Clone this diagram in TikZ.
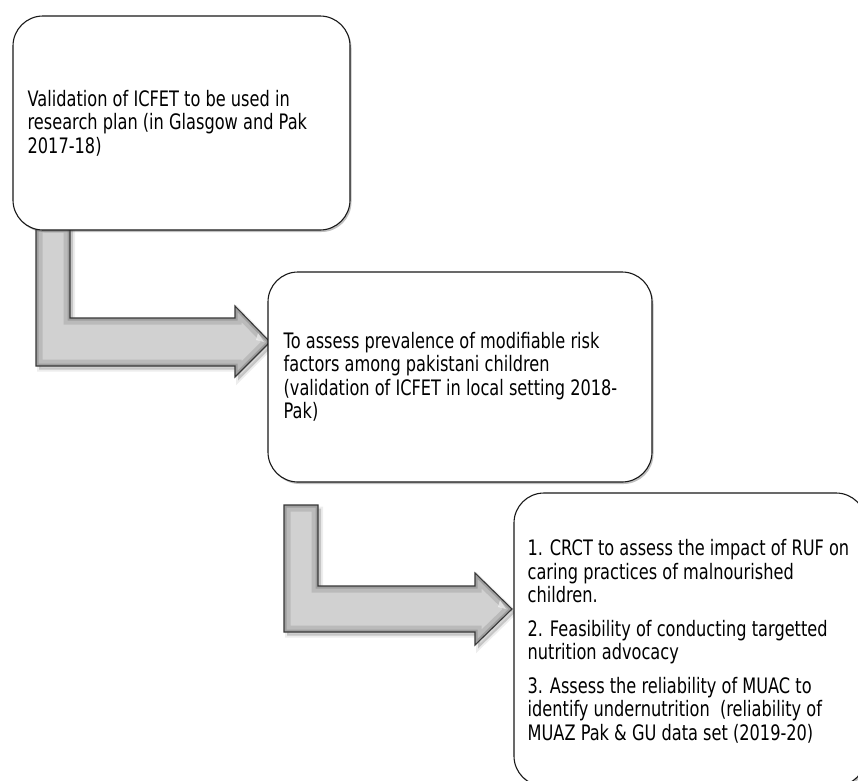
\documentclass[tikz,border=0pt]{standalone}
\usepackage{fontspec}
\setmainfont{DejaVu Sans}[FakeStretch=0.76]
\usetikzlibrary{shadows}

\tikzset{
  boxshape/.style={draw=black!90, line width=1.1pt, fill=white,
    rounded corners=30pt, inner sep=0pt,
    drop shadow={shadow xshift=1.5pt, shadow yshift=-2pt, opacity=0.35, fill=black!70}},
  boxtext/.style={anchor=west, align=left, inner sep=0pt,
    font=\fontsize{21.3}{23.5}\selectfont, text=black},
  arrowrim/.style={draw=black!78, line width=1.1pt, line join=miter},
  arrowshade/.style={fill=black, opacity=0.16},
}

% Bent block arrow.
% #1,#2 stem left/right x; #3 stem top y; #4,#5 shaft top/bottom y;
% #6 head base x; #7,#8 head top/bottom y; #9 tip x
\newcommand\flowarrow[9]{%
  \fill[arrowshade, shift={(3,3.5)}]
    (#1,#3) -- (#2,#3) -- (#2,#4) -- (#6,#4) -- (#6,#7) -- (#9,{(#4+#5)/2})
    -- (#6,#8) -- (#6,#5) -- (#1,#5) -- cycle;
  \draw[black, opacity=0.07, line width=4pt, shift={(3,3.5)}]
    (#1,#3) -- (#2,#3) -- (#2,#4) -- (#6,#4) -- (#6,#7) -- (#9,{(#4+#5)/2})
    -- (#6,#8) -- (#6,#5) -- (#1,#5) -- cycle;
  \begin{scope}
    \clip (#1,#3) -- (#2,#3) -- (#2,#4) -- (#6,#4) -- (#6,#7) -- (#9,{(#4+#5)/2})
      -- (#6,#8) -- (#6,#5) -- (#1,#5) -- cycle;
    \fill[black!18] (#1,{#3-5}) rectangle (#9,{#8+5});
    \draw[black!27, line width=13pt, line join=miter]
      (#1,#3) -- (#2,#3) -- (#2,#4) -- (#6,#4) -- (#6,#7) -- (#9,{(#4+#5)/2})
      -- (#6,#8) -- (#6,#5) -- (#1,#5) -- cycle;
    \draw[black!38, line width=5pt, line join=miter]
      (#1,#3) -- (#2,#3) -- (#2,#4) -- (#6,#4) -- (#6,#7) -- (#9,{(#4+#5)/2})
      -- (#6,#8) -- (#6,#5) -- (#1,#5) -- cycle;
    \fill[white, opacity=0.55] ({#9-14},{(#4+#5)/2-2}) -- ({#9-6},{(#4+#5)/2})
      -- ({#9-12},{(#4+#5)/2-9}) -- cycle;
  \end{scope}
  \draw[arrowrim]
    (#1,#3) -- (#2,#3) -- (#2,#4) -- (#6,#4) -- (#6,#7) -- (#9,{(#4+#5)/2})
    -- (#6,#8) -- (#6,#5) -- (#1,#5) -- cycle;
}

\begin{document}
\begin{tikzpicture}[x=1pt, y=-1pt]
  \useasboundingbox (0,0) rectangle (858,780);
  \clip (0,0) rectangle (858,780);
  \fill[white] (0,0) rectangle (858,780);

  % connectors between the stages
  \flowarrow{36}{70}{226}{318}{366}{235}{306}{377}{270}
  \flowarrow{284}{318}{505}{586}{632}{475}{573}{645}{512}

  % stage 1
  \node[boxshape, minimum width=337pt, minimum height=214pt] (b1) at (181.5,123) {};
  \node[boxtext] (t1) at ([xshift=15pt]b1.west)
    {Validation of ICFET to be used in\\
     research plan (in Glasgow and Pak\\
     2017-18)};

  % stage 2
  \node[boxshape, minimum width=384pt, minimum height=210pt] (b2) at (460,377) {};
  \node[boxtext] (t2) at ([xshift=16pt]b2.west)
    {To assess prevalence of modifiable risk\\
     factors among pakistani children\\
     (validation of ICFET in local setting 2018-\\
     Pak)};

  % stage 3
  \node[boxshape, minimum width=352pt, minimum height=293pt] (b3) at (690,639.5) {};
  \node[boxtext] (t3) at ([xshift=14pt,yshift=-2pt]b3.west)
    {1. CRCT to assess the impact of RUF on\\
     caring practices of malnourished\\
     children.\\[10pt]
     2. Feasibility of conducting targetted\\
     nutrition advocacy\\[10pt]
     3. Assess the reliability of MUAC to\\
     identify undernutrition~ (reliability of\\
     MUAZ Pak \& GU data set (2019-20)};
\end{tikzpicture}
\end{document}
